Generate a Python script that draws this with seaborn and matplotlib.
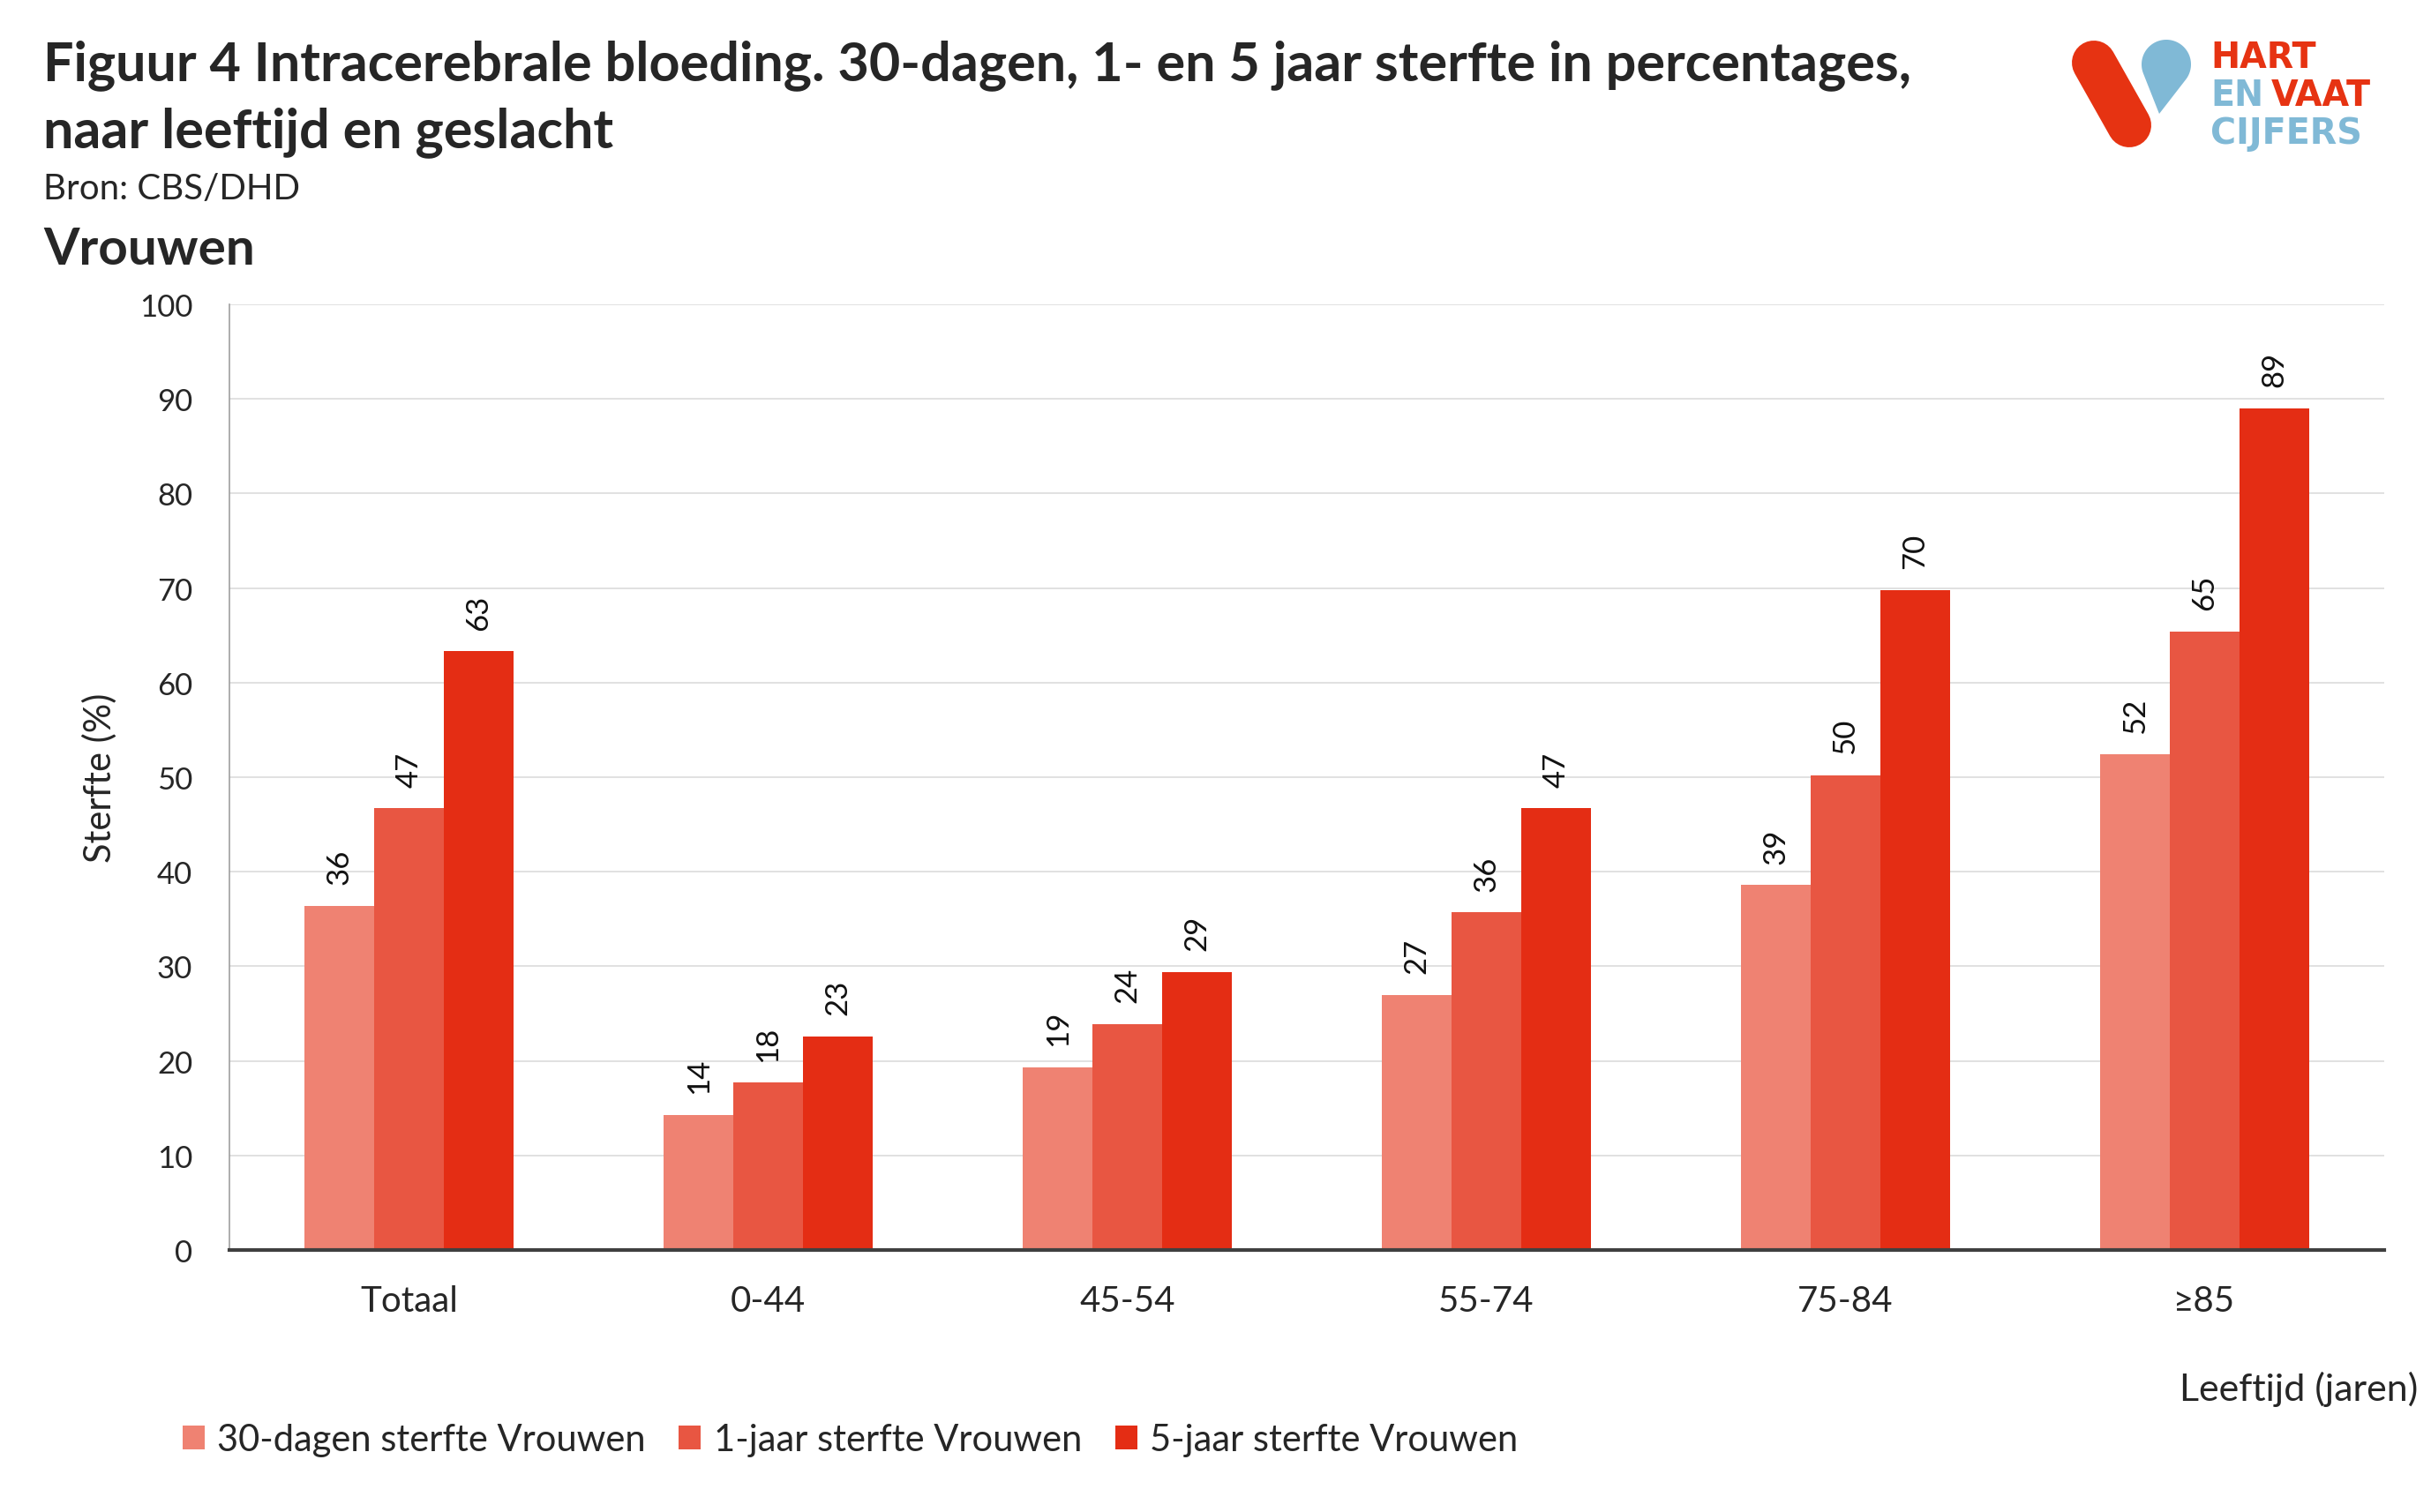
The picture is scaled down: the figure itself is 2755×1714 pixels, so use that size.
import numpy as np
import pandas as pd
import matplotlib
matplotlib.use("Agg")
import matplotlib.pyplot as plt
from matplotlib.patches import Polygon
from matplotlib.lines import Line2D
import seaborn as sns

# ---- data ----
categories = ["Totaal", "0-44", "45-54", "55-74", "75-84", "\u226585"]
series_names = ["30-dagen sterfte Vrouwen", "1-jaar sterfte Vrouwen", "5-jaar sterfte Vrouwen"]
dagen30 = [36.4, 14.3, 19.3, 27.0, 38.6, 52.4]
jaar1 = [46.7, 17.7, 23.9, 35.7, 50.2, 65.4]
jaar5 = [63.3, 22.6, 29.4, 46.7, 69.8, 89.0]
yticks = [0, 10, 20, 30, 40, 50, 60, 70, 80, 90, 100]
colors = ["#EF8272", "#E85642", "#E42D14"]

rows = []
for name, vals in zip(series_names, [dagen30, jaar1, jaar5]):
    for c, v in zip(categories, vals):
        rows.append({"Leeftijd": c, "Sterfte": v, "Reeks": name})
df = pd.DataFrame(rows)

sns.set_style("white")
plt.rcParams["font.family"] = ["Lato", "DejaVu Sans"]

W, H = 2755, 1715
fig = plt.figure(figsize=(W / 100, H / 100), dpi=100)
ax = fig.add_axes([260 / W, 1 - 1418 / H, (2702 - 260) / W, (1418 - 346) / H])

sns.barplot(data=df, x="Leeftijd", y="Sterfte", hue="Reeks", palette=colors,
            width=0.58, gap=0, saturation=1, ax=ax, linewidth=0, legend=True)

ax.set_ylim(0, 100)
ax.set_xlim(-0.5, 5.5)
ax.set_yticks(yticks)
ax.set_yticklabels([str(t) for t in yticks], fontsize=25)
ax.yaxis.grid(True, color="#d9d9d9", linewidth=1.1)
ax.set_axisbelow(True)
ax.tick_params(axis="y", length=0, pad=30)
ax.tick_params(axis="x", which="major", length=0, pad=28, labelsize=29)
ax.set_xticks(np.arange(0.5, 5.0, 1.0), minor=True)
ax.tick_params(axis="x", which="minor", direction="in", length=11, width=1.6, color="#404040")
ax.set_xlabel("")
ax.set_ylabel("Sterfte (%)", fontsize=30, labelpad=18)

for s in ["top", "right"]:
    ax.spines[s].set_visible(False)
ax.spines["left"].set_color("#a0a0a0")
ax.spines["left"].set_linewidth(1.2)
ax.spines["bottom"].set_color("#404040")
ax.spines["bottom"].set_linewidth(3)

for cont in ax.containers:
    for bar in cont:
        h = bar.get_height()
        ax.text(bar.get_x() + bar.get_width() / 2, h + 2.3, f"{round(h)}",
                rotation=90, ha="center", va="bottom", fontsize=25, color="#111111")

handles, labels = ax.get_legend_handles_labels()
ax.get_legend().remove()
fig.legend(handles, labels, loc="center left", bbox_to_anchor=(190 / W, 1 - 1633 / H),
           ncol=3, frameon=False, fontsize=30, handlelength=0.6, handleheight=0.6,
           handletextpad=0.35, columnspacing=0.9, borderaxespad=0)

fig.text(2740 / W, 1 - 1575 / H, "Leeftijd (jaren)", ha="right", va="center", fontsize=31)

# titles
fig.text(49 / W, 1 - 91 / H, "Figuur 4 Intracerebrale bloeding. 30-dagen, 1- en 5 jaar sterfte in percentages,",
         ha="left", va="baseline", fontsize=44, fontweight="bold")
fig.text(49 / W, 1 - 167 / H, "naar leeftijd en geslacht",
         ha="left", va="baseline", fontsize=44, fontweight="bold")
fig.text(49 / W, 1 - 214 / H, "Bron: CBS/DHD", ha="left", va="center", fontsize=29)
fig.text(49 / W, 1 - 283 / H, "Vrouwen", ha="left", va="center", fontsize=42, fontweight="bold")

# logo
lax = fig.add_axes([0, 0, 1, 1], zorder=5)
lax.set_xlim(0, W)
lax.set_ylim(H, 0)
lax.axis("off")
red = "#E63312"
blue = "#80B9D6"
lax.add_line(Line2D([2373, 2413], [72, 143], color=red, linewidth=36, solid_capstyle="round"))
cx, cy, r = 2455, 74, 28
px, py = 2447, 130
d = np.hypot(px - cx, py - cy)
ang_p = np.arctan2(py - cy, px - cx)
off = np.arccos(r / d)
a1, a2 = ang_p + off, ang_p - off + 2 * np.pi
th = np.linspace(a1, a2, 80)
pts = [(cx + r * np.cos(t), cy + r * np.sin(t)) for t in th] + [(px, py)]
lax.add_patch(Polygon(pts, closed=True, color=blue, linewidth=0))
lfam = ["DejaVu Sans"]
lfs = 28.5
lax.text(2505, 77, "HART", color=red, fontsize=lfs, fontweight="bold", family=lfam, ha="left", va="baseline")
lax.text(2505, 120, "EN", color=blue, fontsize=lfs, fontweight="bold", family=lfam, ha="left", va="baseline")
lax.text(2574, 120, "VAAT", color=red, fontsize=lfs, fontweight="bold", family=lfam, ha="left", va="baseline")
lax.text(2505, 163, "CIJFERS", color=blue, fontsize=lfs, fontweight="bold", family=lfam, ha="left", va="baseline")

fig.savefig("out.png", dpi=100, facecolor="white")
